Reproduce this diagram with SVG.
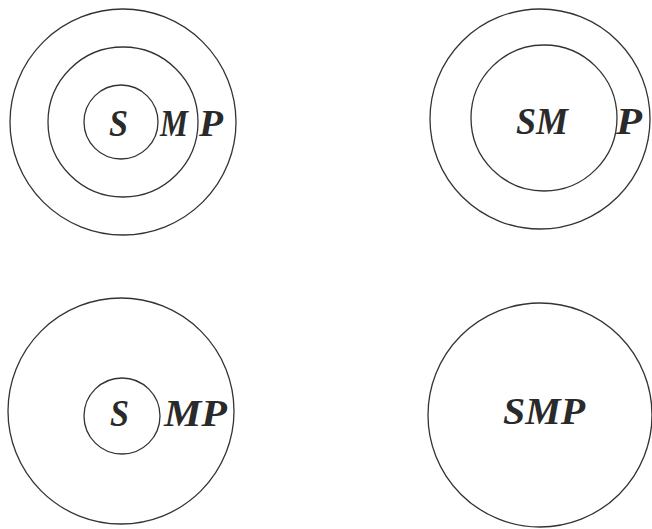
<svg xmlns="http://www.w3.org/2000/svg" width="652" height="529" viewBox="0 0 652 529">
<style>
.c{fill:none;stroke:#333;stroke-width:1.3}
.t{font-family:"Liberation Serif",serif;font-style:italic;font-weight:bold;font-size:38px;fill:#2a2a2a}
</style>
<rect width="652" height="529" fill="#fff"/>
<g id="fig1">
<circle class="c" cx="123" cy="122" r="113"/>
<circle class="c" cx="123" cy="122" r="75"/>
<circle class="c" cx="121" cy="122" r="37"/>
<text class="t" x="109" y="136" textLength="19" lengthAdjust="spacingAndGlyphs">S</text>
<text class="t" x="160" y="136" textLength="28" lengthAdjust="spacingAndGlyphs">M</text>
<text class="t" x="199" y="136" textLength="24" lengthAdjust="spacingAndGlyphs">P</text>
</g>
<g id="fig2">
<circle class="c" cx="540" cy="119" r="110"/>
<circle class="c" cx="544" cy="118" r="73"/>
<text class="t" x="516" y="134" textLength="52" lengthAdjust="spacingAndGlyphs">SM</text>
<text class="t" x="616" y="134" textLength="26" lengthAdjust="spacingAndGlyphs">P</text>
</g>
<g id="fig3">
<circle class="c" cx="121" cy="411" r="113"/>
<circle class="c" cx="122" cy="416" r="38"/>
<text class="t" x="110" y="426" textLength="19" lengthAdjust="spacingAndGlyphs">S</text>
<text class="t" x="164" y="426" textLength="63" lengthAdjust="spacingAndGlyphs">MP</text>
</g>
<g id="fig4">
<circle class="c" cx="540" cy="415" r="112"/>
<text class="t" x="503" y="424" textLength="82" lengthAdjust="spacingAndGlyphs">SMP</text>
</g>
<g id="connectors"/>
</svg>
